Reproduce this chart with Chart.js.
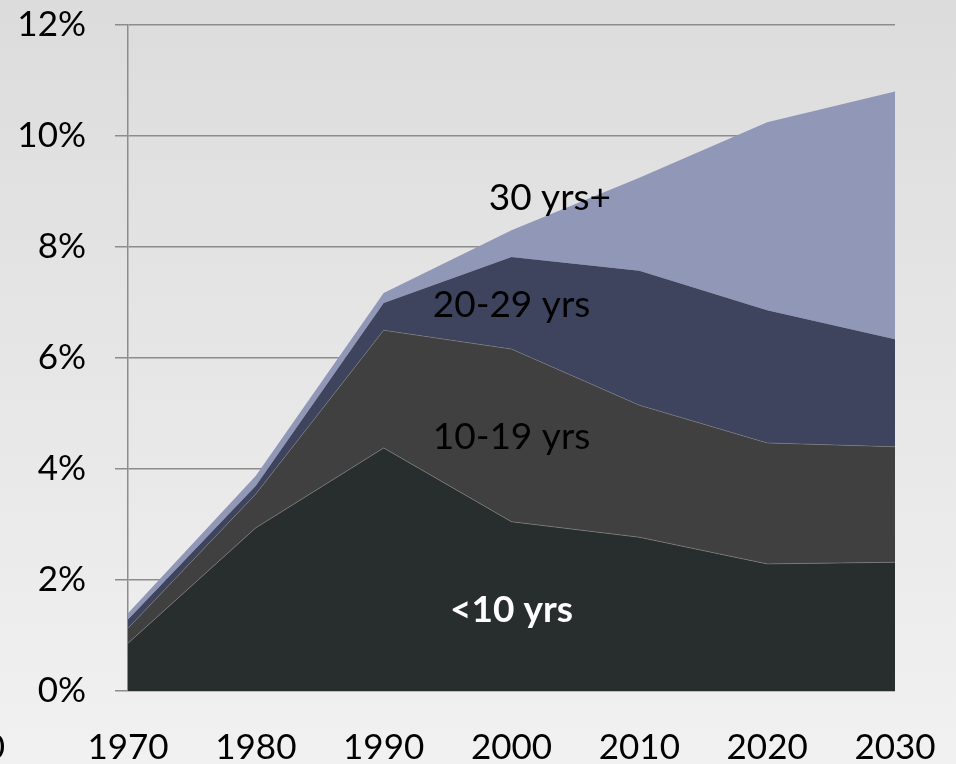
<!DOCTYPE html>
<html>
<head>
<meta charset="utf-8">
<script src="https://cdn.jsdelivr.net/npm/chart.js@4/dist/chart.umd.min.js"></script>
<style>
  html, body { margin: 0; padding: 0; background: #e8e8e8; }
  #wrap { width: 956px; height: 764px; position: relative; }
</style>
</head>
<body>
<div id="wrap"><canvas id="c" width="956" height="764"></canvas></div>
<script>
// ---- data ----
const years = [1970, 1980, 1990, 2000, 2010, 2020, 2030];
const axisYears = [1960, 1970, 1980, 1990, 2000, 2010, 2020, 2030];
const seriesNames = ['<10 yrs', '10-19 yrs', '20-29 yrs', '30 yrs+'];
const under10  = [0.86, 2.94, 4.38, 3.05, 2.77, 2.29, 2.32];
const y10to19  = [0.27, 0.61, 2.12, 3.11, 2.38, 2.18, 2.08];
const y20to29  = [0.16, 0.15, 0.49, 1.66, 2.42, 2.39, 1.94];
const y30plus  = [0.11, 0.18, 0.18, 0.48, 1.68, 3.39, 4.46];
const yTicks   = [0, 2, 4, 6, 8, 10, 12];
// in-chart label anchors (data coordinates)
const labelYears  = [2000.0, 2000.0, 2000.0, 2003.0];
const labelValues = [1.46, 4.58, 6.95, 8.88];

const FONT = 'Lato, "Open Sans", sans-serif';
const colors = ['#282d2d', '#404040', '#3e435e', '#9097b7'];
const borders = ['rgba(140,140,140,0.7)', 'rgba(140,140,140,0.55)', 'rgba(0,0,0,0)', 'rgba(0,0,0,0)'];
const seriesValues = [under10, y10to19, y20to29, y30plus];

const datasets = seriesValues.map((vals, i) => ({
  label: seriesNames[i],
  data: years.map((yr, j) => ({ x: yr, y: vals[j] })),
  backgroundColor: colors[i],
  borderColor: borders[i],
  borderWidth: i < 2 ? 0.8 : 0,
  fill: i === 0 ? 'origin' : '-1',
  pointRadius: 0,
  tension: 0
}));

const bgPlugin = {
  id: 'bg',
  beforeDraw(chart) {
    const ctx = chart.ctx;
    const g = ctx.createLinearGradient(0, 0, 0, chart.height);
    g.addColorStop(0, '#dcdcdc');
    g.addColorStop(1, '#f1f1f1');
    ctx.save();
    ctx.fillStyle = g;
    ctx.fillRect(0, 0, chart.width, chart.height);
    ctx.restore();
  }
};

const labelPlugin = {
  id: 'areaLabels',
  afterDatasetsDraw(chart) {
    const ctx = chart.ctx;
    const xs = chart.scales.x, ys = chart.scales.y;
    ctx.save();
    ctx.textAlign = 'center';
    ctx.textBaseline = 'middle';
    seriesNames.forEach((name, i) => {
      const px = xs.getPixelForValue(labelYears[i]);
      const py = ys.getPixelForValue(labelValues[i]);
      if (i === 0) {
        ctx.font = 'bold 37px ' + FONT;
        ctx.fillStyle = '#ffffff';
      } else {
        ctx.font = '37px ' + FONT;
        ctx.fillStyle = '#000000';
      }
      ctx.fillText(name, px, py);
    });
    ctx.restore();
  }
};

function noPad(scale) {
  scale.paddingLeft = 0; scale.paddingRight = 0;
  scale.paddingTop = 0; scale.paddingBottom = 0;
}

new Chart(document.getElementById('c'), {
  type: 'line',
  data: { datasets },
  plugins: [bgPlugin, labelPlugin],
  options: {
    responsive: false,
    animation: false,
    events: [],
    layout: { padding: { top: 25, right: 61, bottom: 0, left: 0 } },
    plugins: { legend: { display: false }, tooltip: { enabled: false } },
    scales: {
      x: {
        type: 'linear',
        min: 1970,
        max: 2030,
        afterBuildTicks(scale) { scale.ticks = axisYears.map(v => ({ value: v })); },
        afterFit(scale) { scale.height = 73; noPad(scale); },
        grid: { display: false, drawTicks: false },
        border: { display: false },
        ticks: {
          autoSkip: false,
          maxRotation: 0,
          padding: 36,
          color: '#000',
          font: { family: FONT, size: 35 },
          callback: v => (v === 1960 ? '1960        ' : String(v))
        }
      },
      y: {
        stacked: true,
        min: 0,
        max: 12,
        afterBuildTicks(scale) { scale.ticks = yTicks.map(v => ({ value: v })); },
        afterFit(scale) { scale.width = 128; noPad(scale); },
        grid: { color: '#8c8c8c', lineWidth: 1.5, drawTicks: true, tickLength: 13, tickColor: '#8c8c8c' },
        border: { display: true, color: '#8c8c8c', width: 1.5 },
        ticks: {
          padding: 29,
          color: '#000',
          font: { family: FONT, size: 35 },
          callback: v => v + '%'
        }
      }
    }
  }
});
</script>
</body>
</html>
